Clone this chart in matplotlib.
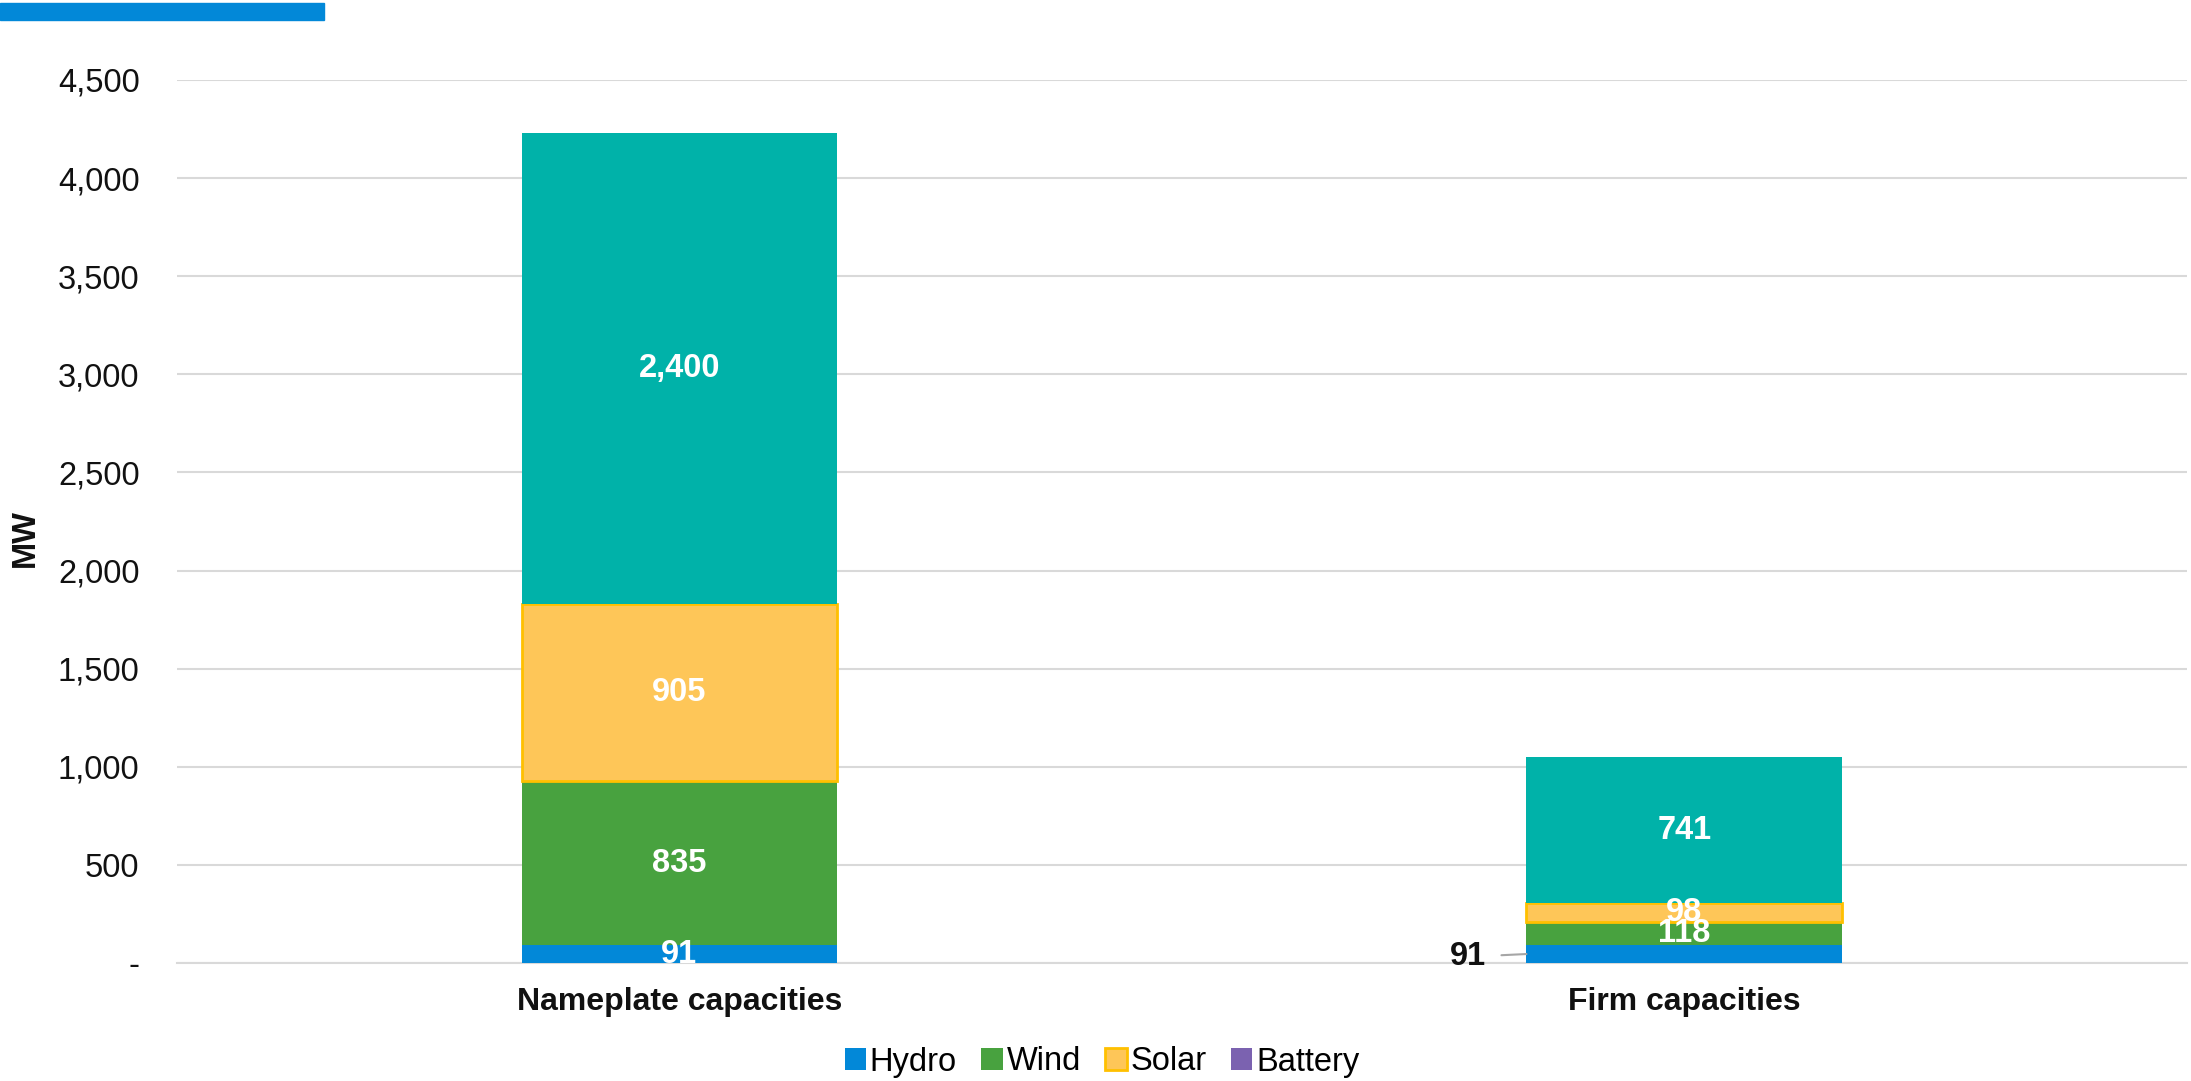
import matplotlib.pyplot as plt
from matplotlib.patches import Rectangle
import numpy as np

categories = ["Nameplate capacities", "Firm capacities"]
hydro = [91, 91]
wind = [835, 118]
solar = [905, 98]
battery = [0, 0]
other = [2400, 741]

yticks = [0, 500, 1000, 1500, 2000, 2500, 3000, 3500, 4000, 4500]
ytick_labels = ["-", "500", "1,000", "1,500", "2,000", "2,500", "3,000", "3,500", "4,000", "4,500"]

plt.rcParams['font.family'] = ['Liberation Sans', 'DejaVu Sans']
fs = 23.5

fig = plt.figure(figsize=(21.91, 10.81), dpi=100)
ax = fig.add_axes([0.0808, 0.1092, 0.9172, 0.8168])

x = np.arange(len(categories))
w = 0.314
bottom = np.zeros(len(categories))

series = [
    ("Hydro", hydro, "#0288D8", "#0288D8"),
    ("Wind", wind, "#48A23F", "#48A23F"),
    ("Solar", solar, "#FEC658", "#FFC000"),
    ("Battery", battery, "#7B62B0", "#7B62B0"),
    (None, other, "#00B2A9", "#00B2A9"),
]

for name, vals, fc, ec in series:
    vals = np.array(vals, dtype=float)
    lw = 2 if name == "Solar" else 0
    ax.bar(x, vals, w, bottom=bottom, color=fc, edgecolor=ec, linewidth=lw,
           label=name if name else "_nolegend_", zorder=3)
    for i, v in enumerate(vals):
        if v <= 0:
            continue
        lbl = f"{v:,.0f}"
        if name == "Hydro" and i == 1:
            # small segment: label outside with a leader line
            ax.annotate(lbl, xy=(x[i] - w / 2, bottom[i] + v / 2),
                        xytext=(-29, -2), textcoords="offset points",
                        ha="right", va="center", fontsize=fs, fontweight="bold",
                        color="#111111",
                        arrowprops=dict(arrowstyle="-", color="#A6A6A6", lw=1.5,
                                        shrinkA=9, shrinkB=0), zorder=5)
        else:
            ax.text(x[i], bottom[i] + v / 2, lbl, ha="center", va="center",
                    fontsize=fs, fontweight="bold", color="white", zorder=5)
    bottom += vals

ax.set_xlim(-0.5, 1.5)
ax.set_ylim(0, 4500)
ax.set_yticks(yticks)
ax.set_yticklabels(ytick_labels, fontsize=fs, color="#111111")
ax.set_xticks(x)
ax.set_xticklabels(categories, fontsize=23, fontweight="bold", color="#111111")
ax.tick_params(axis="y", length=0, pad=27)
ax.tick_params(axis="x", length=0, pad=17)
ax.grid(axis="y", color="#D9D9D9", linewidth=1.5, zorder=0)
for side in ["top", "right", "left"]:
    ax.spines[side].set_visible(False)
ax.spines["bottom"].set_color("#D9D9D9")
ax.spines["bottom"].set_linewidth(1.5)

fig.text(25 / 2191, 1 - 538 / 1081, "MW", rotation=90, ha="center", va="center",
         fontsize=fs, fontweight="bold", color="#111111")

fig.legend(loc="center", bbox_to_anchor=(0.503, 1 - 1062 / 1081), ncol=4,
           frameon=False, fontsize=fs, handlelength=0.65, handleheight=0.65,
           handletextpad=0.12, columnspacing=0.75)

fig.patches.append(Rectangle((0, 1 - 20 / 1081), 324 / 2191, 17 / 1081,
                             transform=fig.transFigure, color="#0288D8"))

fig.savefig("out.png", dpi=100)
